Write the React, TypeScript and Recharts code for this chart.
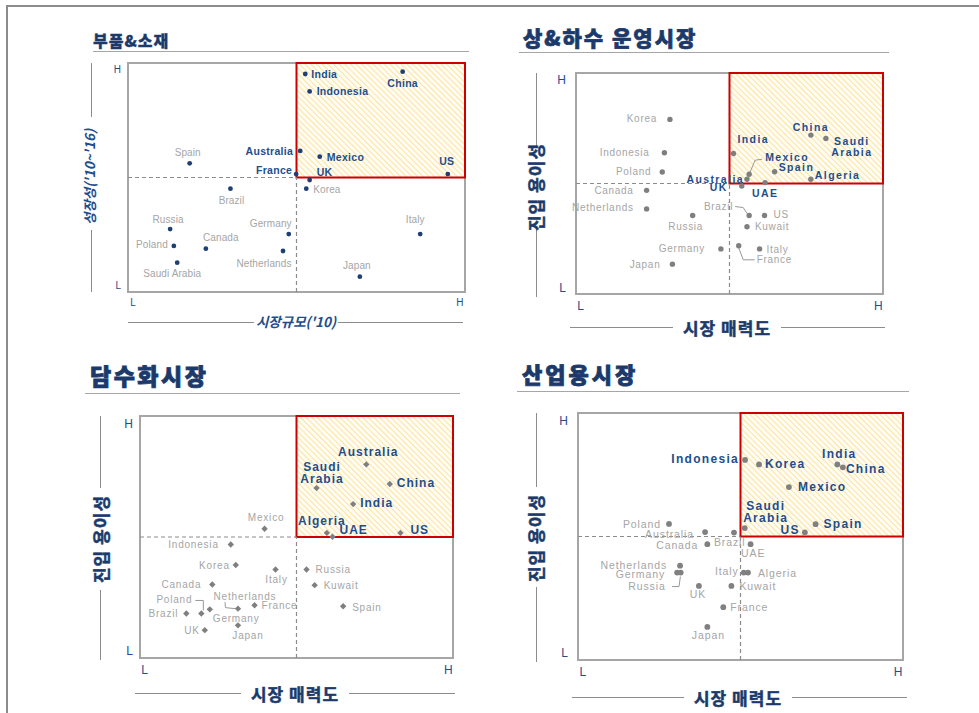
import React from "react";
import { ScatterChart, Scatter, XAxis, YAxis, ReferenceArea, ReferenceLine } from "recharts";

// 부품&소재 (x: 시장규모, y: 성장성)
const partsNames = ["India", "Indonesia", "China", "Australia", "Mexico", "France", "UK", "US", "Korea", "Spain", "Brazil", "Russia", "Poland", "Canada", "Saudi Arabia", "Germany", "Netherlands", "Italy", "Japan"];
const partsX = [52.6, 53.9, 81.5, 51.1, 56.9, 49.9, 53.9, 94.9, 52.9, 18.3, 30.4, 12.5, 13.6, 23.1, 14.6, 47.7, 46.0, 86.7, 68.8];
const partsY = [95.2, 87.6, 96.2, 61.6, 59.1, 51.5, 48.9, 51.5, 45.1, 56.2, 45.1, 27.5, 20.1, 18.9, 12.8, 25.3, 17.9, 25.3, 6.7];
const partsHot = ["India", "Indonesia", "China", "Australia", "Mexico", "France", "UK", "US"];

// 상&하수 운영시장 (x: 시장 매력도, y: 진입 용이성)
const waterNames = ["Korea", "Indonesia", "Poland", "Canada", "Netherlands", "Russia", "Germany", "Japan", "India", "China", "Saudi Arabia", "Mexico", "Australia", "Spain", "Algeria", "UAE", "UK", "Brazil", "US", "Kuwait", "Italy", "France"];
const waterX = [30.6, 28.8, 28.1, 23.0, 23.0, 38.0, 47.2, 31.4, 51.3, 76.5, 81.4, 56.4, 55.7, 64.7, 76.5, 61.6, 54.0, 56.4, 61.4, 55.7, 59.8, 53.0];
const waterY = [79.0, 63.9, 55.2, 46.9, 38.5, 35.5, 20.4, 13.5, 63.6, 71.9, 70.4, 54.2, 51.9, 55.3, 51.9, 50.4, 48.9, 35.5, 35.5, 30.4, 20.4, 21.8];
const waterHot = ["India", "China", "Saudi Arabia", "Mexico", "Spain", "Australia", "Algeria", "UAE", "UK"];

// 담수화시장
const desalNames = ["Australia", "Saudi Arabia", "China", "India", "Algeria", "UAE", "US", "Mexico", "Indonesia", "Korea", "Italy", "Canada", "Russia", "Kuwait", "Spain", "France", "Netherlands", "Poland", "Brazil", "Germany", "Japan", "UK"];
const desalX = [72.3, 56.4, 79.8, 68.1, 59.7, 61.5, 83.2, 39.8, 29.0, 30.6, 43.3, 23.1, 53.2, 55.8, 64.9, 36.6, 31.3, 19.6, 14.8, 22.3, 31.3, 20.7];
const desalY = [80.0, 70.2, 71.9, 63.6, 51.7, 50.1, 51.7, 53.4, 46.9, 38.4, 36.6, 30.4, 36.6, 30.1, 21.4, 21.8, 20.4, 18.4, 18.4, 20.1, 13.5, 11.5];
const desalHot = ["Australia", "Saudi Arabia", "China", "India", "Algeria", "UAE", "US"];

// 산업용시장
const indNames = ["Indonesia", "Korea", "India", "China", "Mexico", "Saudi Arabia", "Spain", "US", "Poland", "Australia", "Brazil", "Canada", "UAE", "Netherlands", "Germany", "Russia", "UK", "Italy", "Algeria", "Kuwait", "France", "Japan"];
const indX = [51.4, 55.7, 79.8, 81.5, 64.9, 51.3, 73.1, 69.8, 28.0, 39.1, 53.1, 39.8, 48.0, 31.4, 30.5, 31.6, 37.2, 51.0, 52.3, 47.2, 44.7, 39.8];
const indY = [81.0, 79.2, 79.2, 78.0, 70.0, 53.4, 55.0, 51.7, 55.1, 51.8, 46.9, 46.9, 51.6, 38.2, 35.4, 35.4, 30.0, 35.4, 35.4, 30.0, 21.4, 13.4];
const indHot = ["Indonesia", "Korea", "India", "China", "Mexico", "Saudi Arabia", "Spain", "US"];

const FONT = '"Liberation Sans", Arial, sans-serif';
const KFONT = '"Noto Sans CJK KR", "Noto Sans", sans-serif';
const NAVY = "#1f4e8c";
const DARK = "#1b3a6b";
const GREY_TXT = "#a5a5a5";

// label placement: anchor, dx, dy (baseline), optional second line, optional leader line
type Spot = { a: "s" | "e" | "m"; dx: number; dy: number; dy2?: number; lead?: number[][] };

const partsSpots: Record<string, Spot> = {
  India: { a: "s", dx: 6, dy: 4 },
  Indonesia: { a: "s", dx: 7, dy: 4 },
  China: { a: "m", dx: 0, dy: 15 },
  Australia: { a: "e", dx: -7, dy: 4 },
  Mexico: { a: "s", dx: 7, dy: 4 },
  France: { a: "e", dx: -4, dy: 0 },
  UK: { a: "s", dx: 7, dy: -4 },
  US: { a: "m", dx: -1, dy: -9 },
  Korea: { a: "s", dx: 7, dy: 4.5 },
  Spain: { a: "m", dx: -2, dy: -7 },
  Brazil: { a: "m", dx: 1, dy: 15 },
  Russia: { a: "m", dx: -2, dy: -6 },
  Poland: { a: "e", dx: -6, dy: 2 },
  Canada: { a: "m", dx: 15, dy: -7.5 },
  "Saudi Arabia": { a: "m", dx: -5, dy: 14 },
  Germany: { a: "m", dx: -18, dy: -7 },
  Netherlands: { a: "m", dx: -19, dy: 16 },
  Italy: { a: "m", dx: -5, dy: -11 },
  Japan: { a: "m", dx: -3, dy: -8 },
};

const waterSpots: Record<string, Spot> = {
  Korea: { a: "e", dx: -13, dy: 2.5 },
  Indonesia: { a: "e", dx: -15, dy: 3 },
  Poland: { a: "e", dx: -11, dy: 3 },
  Canada: { a: "e", dx: -13, dy: 3.5 },
  Netherlands: { a: "e", dx: -13, dy: 2 },
  Russia: { a: "m", dx: -7, dy: 14.5 },
  Germany: { a: "e", dx: -16, dy: 3 },
  Japan: { a: "e", dx: -12, dy: 4 },
  India: { a: "s", dx: 4, dy: -10 },
  China: { a: "m", dx: 0, dy: -4 },
  "Saudi Arabia": { a: "m", dx: 26, dy: 7, dy2: 18 },
  Mexico: { a: "s", dx: 16, dy: -13.5, lead: [[0, 0], [6, -14], [13, -15]] },
  Spain: { a: "s", dx: 4, dy: -0.5 },
  Australia: { a: "e", dx: -3, dy: 4 },
  Algeria: { a: "s", dx: 4, dy: 0 },
  UAE: { a: "m", dx: 0, dy: 14 },
  UK: { a: "e", dx: -14, dy: 5.5 },
  Brazil: { a: "e", dx: -16, dy: -6, lead: [[-14, -9], [-6, -8], [-2, -2]] },
  US: { a: "s", dx: 9, dy: 2.5 },
  Kuwait: { a: "s", dx: 8, dy: 3.5 },
  Italy: { a: "s", dx: 7, dy: 4.5 },
  France: { a: "s", dx: 18, dy: 17.5, lead: [[0, 2], [4.6, 14], [16, 14]] },
};

const desalSpots: Record<string, Spot> = {
  Australia: { a: "m", dx: 2, dy: -8.5 },
  "Saudi Arabia": { a: "m", dx: 5.5, dy: -17.5, dy2: -5 },
  China: { a: "s", dx: 7, dy: 2.5 },
  India: { a: "s", dx: 7, dy: 2.5 },
  Algeria: { a: "m", dx: -5, dy: -8 },
  UAE: { a: "s", dx: 7, dy: -3 },
  US: { a: "s", dx: 10, dy: 1 },
  Mexico: { a: "m", dx: 1.5, dy: -8 },
  Indonesia: { a: "e", dx: -12, dy: 3.5 },
  Korea: { a: "e", dx: -6, dy: 3.5 },
  Italy: { a: "m", dx: 1, dy: 14 },
  Canada: { a: "e", dx: -11, dy: 3.5 },
  Russia: { a: "s", dx: 9, dy: 3.5 },
  Kuwait: { a: "s", dx: 9, dy: 3.5 },
  Spain: { a: "s", dx: 9, dy: 5 },
  France: { a: "s", dx: 7, dy: 3.5 },
  Netherlands: { a: "m", dx: 7, dy: -9, lead: [[-13, -6.5], [-12.5, -1], [-3, 0]] },
  Poland: { a: "e", dx: -9, dy: -10.5, lead: [[-6, -13], [2, -13], [2, -3]] },
  Brazil: { a: "e", dx: -8, dy: 3.5 },
  Germany: { a: "s", dx: 3, dy: 13 },
  Japan: { a: "m", dx: 10, dy: 14 },
  UK: { a: "e", dx: -5, dy: 4 },
};

const indSpots: Record<string, Spot> = {
  Indonesia: { a: "e", dx: -6, dy: 3 },
  Korea: { a: "s", dx: 6, dy: 4 },
  India: { a: "m", dx: 2, dy: -6 },
  China: { a: "s", dx: 3, dy: 6 },
  Mexico: { a: "s", dx: 9, dy: 4 },
  "Saudi Arabia": { a: "m", dx: 21, dy: -18.5, dy2: -6 },
  Spain: { a: "s", dx: 8, dy: 4 },
  US: { a: "e", dx: -5, dy: 2 },
  Poland: { a: "e", dx: -8, dy: 4 },
  Australia: { a: "e", dx: -11, dy: 6 },
  Brazil: { a: "e", dx: -5, dy: 2 },
  Canada: { a: "e", dx: -9, dy: 4.5 },
  UAE: { a: "s", dx: 7, dy: 24 },
  Netherlands: { a: "e", dx: -13, dy: 3 },
  Germany: { a: "e", dx: -12, dy: 5.5 },
  Russia: { a: "e", dx: -15, dy: 17, lead: [[-8.7, 14], [-1.7, 14], [-0.3, 4]] },
  UK: { a: "m", dx: -1, dy: 12 },
  Italy: { a: "e", dx: -5, dy: 2 },
  Algeria: { a: "s", dx: 10, dy: 4.5 },
  Kuwait: { a: "s", dx: 8, dy: 4 },
  France: { a: "s", dx: 7, dy: 4 },
  Japan: { a: "m", dx: 1, dy: 12.5 },
};

const panels = [
  {
    id: "p1", names: partsNames, xs: partsX, ys: partsY, hot: partsHot, spots: partsSpots,
    box: [128, 63, 465, 292], dot: 2.4, diamond: false, dotColor: "#1f3f73",
    hotSize: 10.5, hotLs: 0.3, coldSize: 10, coldLs: 0.1, tickSize: 10, yGap: 7,
    title: { text: "부품&소재", x: 93, cy: 40, size: 16, ls: 1, heavy: 0.3 }, rule: [93, 469, 51],
    yTitle: { text: "성장성('10~'16)", cx: 90, cy: 177, size: 13.5, italic: true }, yLineX: 91, ySegs: [[63, 117], [230, 292]],
    xTitle: { text: "시장규모('10)", cx: 296, cy: 322, size: 13.5, italic: true, pad: 2 }, xLine: [128, 463],
  },
  {
    id: "p2", names: waterNames, xs: waterX, ys: waterY, hot: waterHot, spots: waterSpots,
    box: [576, 73, 883, 294], dot: 2.7, diamond: false, dotColor: "#7f7f7f",
    hotSize: 10.5, hotLs: 1.4, coldSize: 10, coldLs: 0.7, tickSize: 12, yGap: 10,
    title: { text: "상&하수 운영시장", x: 523, cy: 37, size: 21, ls: 2, heavy: 0.7 }, rule: [519, 889, 52],
    yTitle: { text: "진입 용이성", cx: 535, cy: 187, size: 17, italic: false }, yLineX: 536, ySegs: [[73, 147], [228, 297]],
    xTitle: { text: "시장 매력도", cx: 727, cy: 327, size: 17, italic: false, pad: 10 }, xLine: [570, 885],
  },
  {
    id: "p3", names: desalNames, xs: desalX, ys: desalY, hot: desalHot, spots: desalSpots,
    box: [140, 416, 453, 658], dot: 3.2, diamond: true, dotColor: "#7f7f7f",
    hotSize: 12, hotLs: 1, coldSize: 10, coldLs: 0.8, tickSize: 12, yGap: 7,
    title: { text: "담수화시장", x: 90, cy: 375, size: 23, ls: 2.5, heavy: 0.8 }, rule: [85, 460, 393],
    yTitle: { text: "진입 용이성", cx: 100, cy: 539, size: 17, italic: false }, yLineX: 100, ySegs: [[416, 488], [590, 660]],
    xTitle: { text: "시장 매력도", cx: 295, cy: 693, size: 17, italic: false, pad: 10 }, xLine: [135, 455],
  },
  {
    id: "p4", names: indNames, xs: indX, ys: indY, hot: indHot, spots: indSpots,
    box: [578, 413, 903, 660], dot: 2.9, diamond: false, dotColor: "#808080",
    hotSize: 12, hotLs: 1.3, coldSize: 10.5, coldLs: 0.9, tickSize: 12, yGap: 10,
    title: { text: "산업용시장", x: 522, cy: 373, size: 22, ls: 3, heavy: 0.8 }, rule: [517, 909, 391],
    yTitle: { text: "진입 용이성", cx: 535, cy: 538, size: 17, italic: false }, yLineX: 536, ySegs: [[413, 487], [587, 662]],
    xTitle: { text: "시장 매력도", cx: 738, cy: 697, size: 17, italic: false, pad: 10 }, xLine: [572, 907],
  },
];

type PanelCfg = (typeof panels)[number];

const renderPoint = (p: PanelCfg) => (props: any) => {
  const { cx, cy, payload } = props;
  if (cx == null || cy == null) return <g />;
  const name: string = payload.name;
  const s: Spot = p.spots[name] || { a: "s", dx: 6, dy: 4 };
  const hot = p.hot.includes(name);
  const anchor = s.a === "s" ? "start" : s.a === "e" ? "end" : "middle";
  const lines = s.dy2 != null ? name.split(" ") : [name];
  const d = p.dot;
  return (
    <g>
      {s.lead && (
        <polyline
          points={s.lead.map(([a, b]) => `${cx + a},${cy + b}`).join(" ")}
          fill="none"
          stroke="#8c8c8c"
          strokeWidth={0.9}
        />
      )}
      {p.diamond ? (
        <polygon points={`${cx},${cy - d} ${cx + d},${cy} ${cx},${cy + d} ${cx - d},${cy}`} fill={p.dotColor} />
      ) : (
        <circle cx={cx} cy={cy} r={d} fill={p.dotColor} />
      )}
      {lines.map((t, i) => (
        <text
          key={i}
          x={cx + s.dx}
          y={cy + (i === 0 ? s.dy : (s.dy2 as number))}
          textAnchor={anchor}
          fontFamily={FONT}
          fontSize={hot ? p.hotSize : p.coldSize}
          fontWeight={hot ? 700 : 400}
          letterSpacing={hot ? p.hotLs : p.coldLs}
          fill={hot ? NAVY : GREY_TXT}
        >
          {t}
        </text>
      ))}
    </g>
  );
};

function Panel({ p }: { p: PanelCfg }) {
  const data = p.names.map((n, i) => ({ name: n, x: p.xs[i], y: p.ys[i] }));
  const [x0, y0, x1, y1] = p.box;
  const w = x1 - x0;
  const h = y1 - y0;
  const tickStyle = { fill: NAVY, fontSize: p.tickSize, fontFamily: FONT };
  const t = p.title;
  const yt = p.yTitle;
  const xt = p.xTitle;
  return (
    <>
      <div
        style={{
          position: "absolute", left: t.x, top: t.cy - t.size / 2, height: t.size, lineHeight: `${t.size}px`,
          fontFamily: KFONT, fontWeight: 900, fontSize: t.size, letterSpacing: t.ls, color: DARK, whiteSpace: "nowrap",
          WebkitTextStroke: `${t.heavy}px ${DARK}`,
        }}
      >
        {t.text}
      </div>
      <div style={{ position: "absolute", left: p.rule[0], top: p.rule[2], width: p.rule[1] - p.rule[0], borderTop: "1.5px solid #a6a6a6" }} />

      {p.ySegs.map(([a, b], i) => (
        <div key={i} style={{ position: "absolute", left: p.yLineX, top: a, height: b - a, borderLeft: "1.5px solid #8c8c8c" }} />
      ))}
      <div
        style={{
          position: "absolute", left: yt.cx, top: yt.cy, transform: "translate(-50%, -50%) rotate(-90deg)",
          fontFamily: KFONT, fontWeight: 700, fontStyle: yt.italic ? "italic" : "normal", fontSize: yt.size,
          color: yt.italic ? NAVY : DARK, whiteSpace: "nowrap", lineHeight: 1, letterSpacing: yt.italic ? 0 : 1,
          WebkitTextStroke: yt.italic ? "0px" : `0.5px ${DARK}`,
        }}
      >
        {yt.text}
      </div>

      <div style={{ position: "absolute", left: p.xLine[0], top: xt.cy, width: p.xLine[1] - p.xLine[0], borderTop: "1.5px solid #8c8c8c" }} />
      <div
        style={{
          position: "absolute", left: xt.cx, top: xt.cy, transform: "translate(-50%, -50%)", background: "#fff",
          padding: `0 ${xt.pad}px`, fontFamily: KFONT, fontWeight: 700, fontStyle: xt.italic ? "italic" : "normal",
          fontSize: xt.size, color: xt.italic ? NAVY : DARK, whiteSpace: "nowrap", lineHeight: 1, letterSpacing: xt.italic ? 0 : 1,
          WebkitTextStroke: xt.italic ? "0px" : `0.5px ${DARK}`,
        }}
      >
        {xt.text}
      </div>

      <div style={{ position: "absolute", left: x0 - 44, top: y0 - 10 }}>
        <ScatterChart width={w + 54} height={h + 40} margin={{ top: 10, right: 10, bottom: 0, left: 0 }}>
          <defs>
            <pattern id={`hatch-${p.id}`} patternUnits="userSpaceOnUse" width={4} height={4} patternTransform="rotate(-45)">
              <rect width={4} height={4} fill="#fffdf3" />
              <line x1={0} y1={0} x2={0} y2={4} stroke="#fbe3a0" strokeWidth={2} />
            </pattern>
          </defs>
          <XAxis
            type="number" dataKey="x" domain={[0, 100]} ticks={[1.5, 98.5]} interval={0}
            tickFormatter={(v: number) => (v < 50 ? "L" : "H")}
            axisLine={false} tickLine={false} tickSize={0} tickMargin={7} height={30} tick={tickStyle}
          />
          <YAxis
            type="number" dataKey="y" domain={[0, 100]} ticks={[3, 97]} interval={0}
            tickFormatter={(v: number) => (v < 50 ? "L" : "H")}
            axisLine={false} tickLine={false} tickSize={0} tickMargin={p.yGap} width={44} tick={tickStyle}
          />
          <ReferenceArea x1={0} x2={100} y1={0} y2={100} fill="none" stroke="#a6a6a6" strokeWidth={2} />
          <ReferenceLine segment={[{ x: 0, y: 50 }, { x: 50, y: 50 }]} stroke="#8c8c8c" strokeDasharray="4 3" strokeWidth={1.2} />
          <ReferenceLine segment={[{ x: 50, y: 0 }, { x: 50, y: 50 }]} stroke="#8c8c8c" strokeDasharray="4 3" strokeWidth={1.2} />
          <ReferenceArea x1={50} x2={100} y1={50} y2={100} fill={`url(#hatch-${p.id})`} fillOpacity={1} stroke="#cc0000" strokeWidth={2} />
          <Scatter data={data} isAnimationActive={false} shape={renderPoint(p)} />
        </ScatterChart>
      </div>
    </>
  );
}

export default function App() {
  return (
    <div style={{ position: "absolute", left: 0, top: 0, width: 979, height: 713, background: "#fff", overflow: "hidden" }}>
      <div style={{ position: "absolute", left: 6, top: 5, width: 973, borderTop: "2px solid #8c8c8c" }} />
      <div style={{ position: "absolute", left: 6, top: 5, height: 708, borderLeft: "2px solid #8c8c8c" }} />
      {panels.map((p) => (
        <Panel key={p.id} p={p} />
      ))}
    </div>
  );
}
